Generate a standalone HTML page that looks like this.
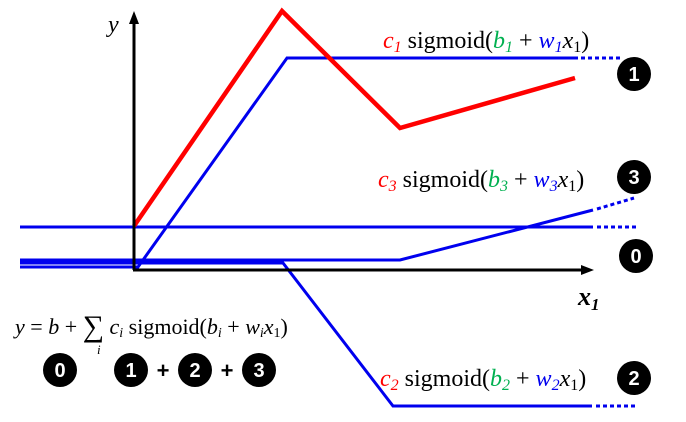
<!DOCTYPE html>
<html><head><meta charset="utf-8"><style>
html,body{margin:0;padding:0;background:#fff;}
svg{display:block;}
.lab{font-family:"Liberation Serif",serif;font-size:24px;}
.ci{font-family:"Liberation Sans",sans-serif;font-weight:bold;font-size:20px;fill:#fff;}
</style></head><body>
<svg width="686" height="422" viewBox="0 0 686 422" xmlns="http://www.w3.org/2000/svg">
<g fill="none" stroke="#0000ee" stroke-width="3">
<polyline points="20,227 593,227"/>
<polyline points="20,260 400,260 593,210"/>
<polyline points="20,263 283,263 393,406 592,406"/>
<polyline points="20,267 138,267 287,58 578,58"/>
</g>
<g fill="none" stroke="#0000ee" stroke-width="3" stroke-dasharray="4,3">
<line x1="581" y1="58" x2="620" y2="58"/>
<line x1="597" y1="227" x2="636" y2="227"/>
<line x1="597" y1="209" x2="634" y2="198"/>
<line x1="596" y1="406" x2="636" y2="406"/>
</g>
<polyline points="134,226 282,11 400,128 575,78" fill="none" stroke="#ff0000" stroke-width="4.5" stroke-linejoin="miter"/>
<g stroke="#000" stroke-width="3" fill="none">
<line x1="134" y1="270" x2="134" y2="20"/>
<line x1="133" y1="270" x2="585" y2="270"/>
</g>
<polygon points="134,11 129,24 139,24" fill="#000"/>
<polygon points="594,270 581,265 581,275" fill="#000"/>
<text x="108" y="32" font-family="Liberation Serif,serif" font-style="italic" font-size="24">y</text>
<text x="578" y="305" font-family="Liberation Serif,serif" font-style="italic" font-weight="bold" font-size="26">x<tspan font-size="17" dy="5">1</tspan></text>
<text class="lab" x="383" y="48"><tspan fill="#ff0000" font-style="italic">c<tspan font-size="16" dy="4">1</tspan></tspan><tspan dy="-4"> sigmoid(</tspan><tspan fill="#00b050" font-style="italic">b<tspan font-size="16" dy="4">1</tspan></tspan><tspan dy="-4"> + </tspan><tspan fill="#0000ee" font-style="italic">w<tspan font-size="16" dy="4">1</tspan></tspan><tspan dy="-4" font-style="italic">x</tspan><tspan font-size="16" dy="4">1</tspan><tspan dy="-4">)</tspan></text>
<text class="lab" x="378" y="187"><tspan fill="#ff0000" font-style="italic">c<tspan font-size="16" dy="4">3</tspan></tspan><tspan dy="-4"> sigmoid(</tspan><tspan fill="#00b050" font-style="italic">b<tspan font-size="16" dy="4">3</tspan></tspan><tspan dy="-4"> + </tspan><tspan fill="#0000ee" font-style="italic">w<tspan font-size="16" dy="4">3</tspan></tspan><tspan dy="-4" font-style="italic">x</tspan><tspan font-size="16" dy="4">1</tspan><tspan dy="-4">)</tspan></text>
<text class="lab" x="380" y="386"><tspan fill="#ff0000" font-style="italic">c<tspan font-size="16" dy="4">2</tspan></tspan><tspan dy="-4"> sigmoid(</tspan><tspan fill="#00b050" font-style="italic">b<tspan font-size="16" dy="4">2</tspan></tspan><tspan dy="-4"> + </tspan><tspan fill="#0000ee" font-style="italic">w<tspan font-size="16" dy="4">2</tspan></tspan><tspan dy="-4" font-style="italic">x</tspan><tspan font-size="16" dy="4">1</tspan><tspan dy="-4">)</tspan></text>
<text x="15" y="334" font-family="Liberation Serif,serif" font-size="22"><tspan font-style="italic">y</tspan> = <tspan font-style="italic">b</tspan> + <tspan font-size="30" dy="2">∑</tspan><tspan dy="-2" font-style="italic"> c</tspan><tspan font-size="14" dy="3" font-style="italic">i</tspan><tspan dy="-3"> sigmoid(</tspan><tspan font-style="italic">b</tspan><tspan font-size="14" dy="3" font-style="italic">i</tspan><tspan dy="-3"> + </tspan><tspan font-style="italic">w</tspan><tspan font-size="14" dy="3" font-style="italic">i</tspan><tspan dy="-3" font-style="italic">x</tspan><tspan font-size="14" dy="3">1</tspan><tspan dy="-3">)</tspan></text>
<text x="97" y="354" font-family="Liberation Serif,serif" font-style="italic" font-size="13">i</text>
<g fill="#000">
<circle cx="634" cy="74" r="17"/><circle cx="634" cy="177" r="17"/>
<circle cx="636" cy="256" r="17"/><circle cx="634" cy="378" r="17"/>
<circle cx="60" cy="370" r="17"/><circle cx="131" cy="370" r="17"/>
<circle cx="195" cy="370" r="17"/><circle cx="259" cy="370" r="17"/>
</g>
<g class="ci" text-anchor="middle">
<text x="634" y="81">1</text><text x="634" y="184">3</text>
<text x="636" y="263">0</text><text x="634" y="385">2</text>
<text x="60" y="377">0</text><text x="131" y="377">1</text>
<text x="195" y="377">2</text><text x="259" y="377">3</text>
</g>
<g font-family="Liberation Sans,sans-serif" font-weight="bold" font-size="22" text-anchor="middle">
<text x="163" y="378">+</text><text x="227" y="378">+</text>
</g>
</svg>
</body></html>
